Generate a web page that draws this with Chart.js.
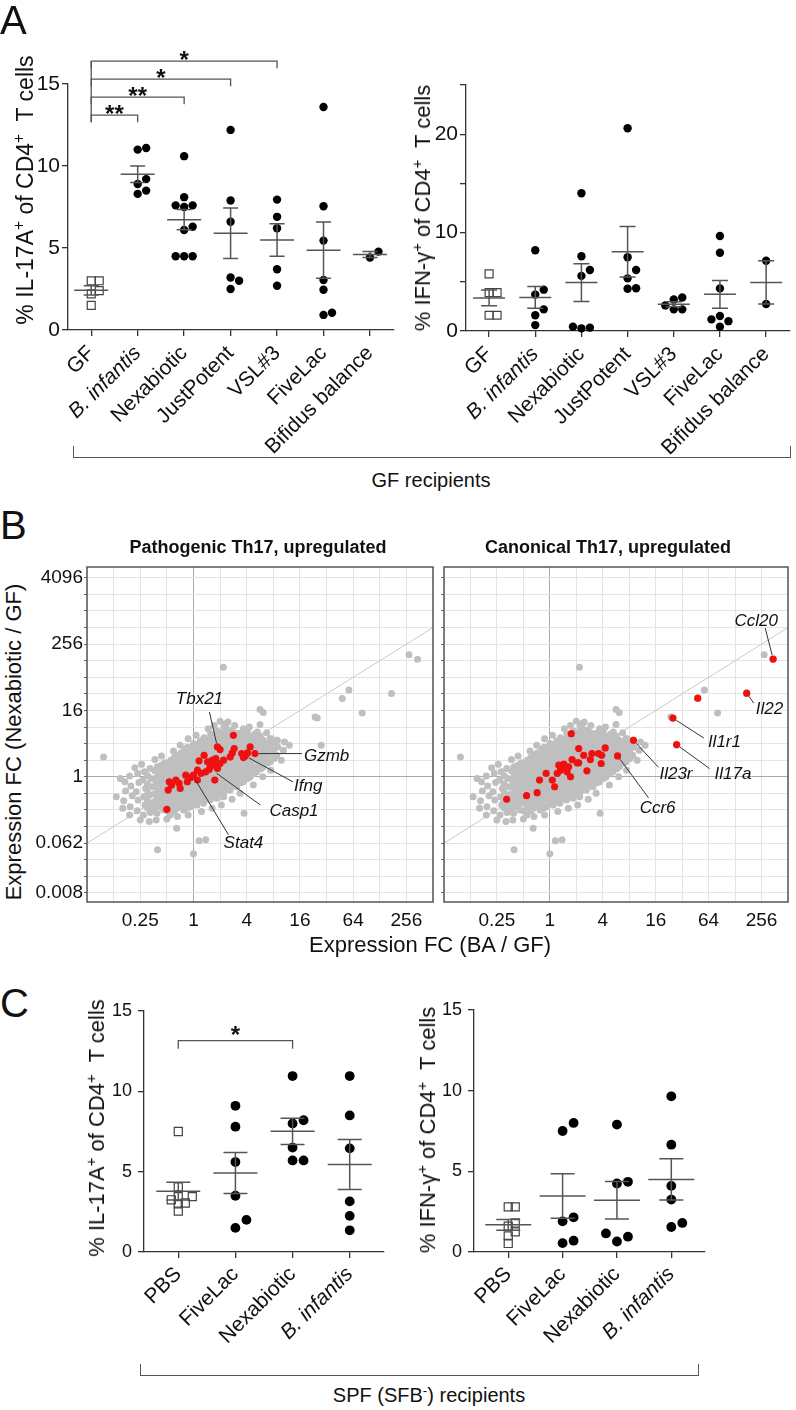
<!DOCTYPE html>
<html>
<head>
<meta charset="utf-8">
<title>Th17 induction by probiotics</title>
<script src="https://cdn.jsdelivr.net/npm/chart.js@4.4.1/dist/chart.umd.min.js"></script>
<style>
  body { margin: 0; background: #fff; }
  #fig { position: relative; width: 796px; height: 1410px; overflow: hidden;
         font-family: 'Liberation Sans', Arial, sans-serif; color: #111; }
  #fig canvas { position: absolute; }
  .t { position: absolute; white-space: nowrap; line-height: 1; }
  .c { transform: translate(-50%, -50%); }
  .r { transform: translate(-50%, -50%) rotate(-90deg); }
  .t sup { font-size: 0.68em; vertical-align: 0.55em; line-height: 0; }
  .letter { font-size: 40px; }
  .ytitle { font-size: 22px; }
  .brace { position: absolute; border: 1.3px solid #555; border-top: none; }
</style>
</head>
<body>
<div id="fig">
  <canvas id="a1" width="400" height="420" style="left:0;top:40px"></canvas>
  <canvas id="a2" width="396" height="420" style="left:400px;top:40px"></canvas>
  <canvas id="b1" width="410" height="380" style="left:30px;top:555px"></canvas>
  <canvas id="b2" width="356" height="380" style="left:440px;top:555px"></canvas>
  <canvas id="c1" width="340" height="380" style="left:60px;top:990px"></canvas>
  <canvas id="c2" width="330" height="380" style="left:400px;top:990px"></canvas>

  <div class="t letter" style="left:0;top:0">A</div>
  <div class="t letter" style="left:0;top:505px">B</div>
  <div class="t letter" style="left:0;top:983px">C</div>

  <div class="t ytitle r" style="left:25px;top:190px;font-size:23px">% IL-17A<sup>+</sup> of CD4<sup>+</sup>&nbsp; T cells</div>
  <div class="t ytitle r" style="left:423px;top:208px">% IFN-γ<sup>+</sup> of CD4<sup>+</sup>&nbsp; T cells</div>
  <div class="brace" style="left:73px;top:446px;width:716px;height:11px"></div>
  <div class="t c" style="left:431px;top:480px;font-size:20px">GF recipients</div>

  <div class="t c" style="left:258px;top:547px;font-size:18px;font-weight:bold">Pathogenic Th17, upregulated</div>
  <div class="t c" style="left:608px;top:547px;font-size:18px;font-weight:bold">Canonical Th17, upregulated</div>
  <div class="t ytitle r" style="left:14px;top:742px">Expression FC (Nexabiotic / GF)</div>
  <div class="t ytitle c" style="left:430px;top:945px">Expression FC (BA / GF)</div>

  <div class="t ytitle r" style="left:97px;top:1128px">% IL-17A<sup>+</sup> of CD4<sup>+</sup>&nbsp; T cells</div>
  <div class="t ytitle r" style="left:428px;top:1130px">% IFN-γ<sup>+</sup> of CD4<sup>+</sup>&nbsp; T cells</div>
  <div class="brace" style="left:140px;top:1364px;width:557px;height:11px"></div>
  <div class="t c" style="left:429px;top:1395px;font-size:20px">SPF (SFB<sup>-</sup>) recipients</div>
</div>
<script>
// ---- panel A: GF recipients ----
const groupsA = ['GF', 'B. infantis', 'Nexabiotic', 'JustPotent', 'VSL#3', 'FiveLac', 'Bifidus balance'];
const il17aGF = [
  [3.0, 3.0, 2.4, 2.2, 1.5],
  [11.0, 11.1, 9.2, 8.9, 8.5, 8.3],
  [10.6, 8.1, 7.6, 7.6, 7.5, 6.3, 6.1, 4.5, 4.5, 4.5],
  [12.2, 7.9, 6.6, 3.2, 3.0, 2.5],
  [7.95, 6.9, 6.2, 3.7, 2.7],
  [13.6, 7.55, 5.45, 3.05, 2.45, 1.05, 0.92],
  [4.78, 4.42]
];
const ifngGF = [
  [5.8, 3.9, 3.9, 1.6, 1.6],
  [8.2, 4.2, 3.7, 2.2, 1.6, 0.6],
  [14.0, 7.6, 6.2, 5.6, 0.44, 0.34, 0.27],
  [20.6, 7.5, 6.2, 5.35, 4.35, 4.3],
  [3.4, 3.2, 2.6, 2.2, 2.2],
  [9.65, 7.95, 4.33, 1.52, 1.18, 1.0, 0.44],
  [7.14, 2.74]
];
const il17aGFSig = [[0, 1, '**'], [0, 2, '**'], [0, 3, '*'], [0, 4, '*']];
const yTicksIl17a = [0, 5, 10, 15];
const yTicksIfngGF = [0, 5, 10, 15, 20, 25];
const yLabelsIfngGF = [0, 10, 20];

// ---- panel B: log2 fold changes [BA/GF, Nexabiotic/GF] ----
const geneFC = [
  [-2.62,-1.45],[-2.55,-0.85],[-2.58,-0.3],[-2.38,-1.8],[-2.3,-1.15],[-2.35,-0.55],[-2.4,0.05],
  [-2.12,-2.05],[-2.08,-1.4],[-2.15,-0.9],[-2.05,-0.35],[-2.1,0.2],
  [-1.88,-2.3],[-1.82,-1.7],[-1.86,-1.2],[-1.8,-0.7],[-1.9,-0.2],[-1.84,0.3],
  [-1.62,-2.15],[-1.58,-1.6],[-1.64,-1.1],[-1.56,-0.6],[-1.6,-0.1],[-1.63,0.5],
  [-1.37,-2.2],[-1.32,-1.7],[-1.36,-1.3],[-1.3,-0.85],[-1.38,-0.4],[-1.34,0.1],[-1.36,0.6],
  [-1.12,-2.0],[-1.08,-1.55],[-1.1,-1.15],[-1.06,-0.75],[-1.13,-0.35],[-1.09,0.05],[-1.11,0.45],[-1.07,0.85],
  [-0.87,-2.3],[-0.83,-1.8],[-0.86,-1.4],[-0.82,-1.0],[-0.88,-0.6],[-0.84,-0.2],[-0.86,0.2],[-0.83,0.6],[-0.85,1.0],
  [-0.62,-1.9],[-0.58,-1.5],[-0.61,-1.1],[-0.57,-0.7],[-0.63,-0.3],[-0.59,0.1],[-0.6,0.5],[-0.56,0.9],[-0.62,1.3],
  [-0.37,-2.0],[-0.33,-1.6],[-0.36,-1.2],[-0.32,-0.8],[-0.38,-0.4],[-0.34,0.0],[-0.35,0.4],[-0.31,0.8],[-0.37,1.2],[-0.33,1.6],
  [-0.12,-1.8],[-0.08,-1.4],[-0.11,-1.0],[-0.07,-0.6],[-0.13,-0.2],[-0.09,0.2],[-0.1,0.6],[-0.06,1.0],[-0.12,1.4],[-0.08,1.8],
  [0.13,-1.7],[0.17,-1.3],[0.14,-0.9],[0.18,-0.5],[0.12,-0.1],[0.16,0.3],[0.15,0.7],[0.19,1.1],[0.13,1.5],[0.17,1.9],
  [0.38,-1.6],[0.42,-1.2],[0.39,-0.8],[0.43,-0.4],[0.37,0.0],[0.41,0.4],[0.4,0.8],[0.44,1.2],[0.38,1.6],[0.42,2.0],[0.4,2.35],
  [0.63,-1.4],[0.67,-1.0],[0.64,-0.6],[0.68,-0.2],[0.62,0.2],[0.66,0.6],[0.65,1.0],[0.69,1.4],[0.63,1.8],[0.67,2.2],[0.64,2.6],
  [0.88,-1.3],[0.92,-0.9],[0.89,-0.5],[0.93,-0.1],[0.87,0.3],[0.91,0.7],[0.9,1.1],[0.94,1.5],[0.88,1.9],[0.92,2.3],[0.9,2.75],
  [1.13,-1.0],[1.17,-0.6],[1.14,-0.2],[1.18,0.2],[1.12,0.6],[1.16,1.0],[1.15,1.4],[1.19,1.8],[1.13,2.2],[1.17,2.6],[1.15,3.0],
  [1.38,-0.8],[1.42,-0.4],[1.39,0.0],[1.43,0.4],[1.37,0.8],[1.41,1.2],[1.4,1.6],[1.44,2.0],[1.38,2.4],[1.42,2.8],
  [1.63,-0.6],[1.67,-0.2],[1.64,0.2],[1.68,0.6],[1.62,1.0],[1.66,1.4],[1.65,1.8],[1.69,2.2],[1.63,2.6],
  [1.88,-0.3],[1.92,0.1],[1.89,0.5],[1.93,0.9],[1.87,1.3],[1.91,1.7],[1.9,2.1],[1.94,2.5],[1.88,2.9],
  [2.13,0.0],[2.17,0.4],[2.14,0.8],[2.18,1.2],[2.12,1.6],[2.16,2.0],[2.15,2.4],
  [2.38,0.3],[2.42,0.7],[2.39,1.1],[2.43,1.5],[2.37,1.9],[2.41,2.3],[2.4,2.7],
  [2.63,0.6],[2.67,1.0],[2.64,1.4],[2.68,1.8],[2.62,2.2],[2.88,0.9],[2.92,1.4],[2.89,1.9],[2.93,2.3],
  [3.13,1.3],[3.17,1.8],[3.14,2.2],[3.38,1.6],[3.42,2.1],
  [-1.72,-1.88],[-1.74,-1.43],[-1.71,-0.97],[-1.73,-0.44],[-1.72,0.06],
  [-1.47,-1.93],[-1.49,-1.52],[-1.46,-1.04],[-1.48,-0.61],[-1.47,-0.14],[-1.45,0.36],
  [-1.22,-1.82],[-1.24,-1.34],[-1.21,-0.96],[-1.23,-0.53],[-1.22,-0.16],[-1.24,0.31],[-1.21,0.69],
  [-0.97,-2.06],[-0.99,-1.59],[-0.96,-1.21],[-0.98,-0.79],[-0.97,-0.41],[-0.99,0.02],[-0.96,0.39],[-0.98,0.81],
  [-0.72,-2.08],[-0.74,-1.66],[-0.71,-1.24],[-0.73,-0.86],[-0.72,-0.44],[-0.74,-0.06],[-0.71,0.36],[-0.73,0.74],[-0.72,1.16],
  [-0.47,-1.76],[-0.49,-1.34],[-0.46,-0.96],[-0.48,-0.54],[-0.47,-0.16],[-0.49,0.26],[-0.46,0.64],[-0.48,1.06],[-0.47,1.44],
  [-0.22,-1.86],[-0.24,-1.44],[-0.21,-1.06],[-0.23,-0.64],[-0.22,-0.26],[-0.24,0.16],[-0.21,0.54],[-0.23,0.96],[-0.22,1.34],[-0.24,1.76],
  [0.03,-1.61],[0.01,-1.19],[0.04,-0.81],[0.02,-0.39],[0.03,0.01],[0.01,0.41],[0.04,0.79],[0.02,1.21],[0.03,1.59],[0.01,2.01],
  [0.28,-1.46],[0.26,-1.04],[0.29,-0.66],[0.27,-0.24],[0.28,0.14],[0.26,0.56],[0.29,0.94],[0.27,1.36],[0.28,1.74],[0.26,2.16],
  [0.53,-1.34],[0.51,-0.96],[0.54,-0.54],[0.52,-0.16],[0.53,0.26],[0.51,0.64],[0.54,1.06],[0.52,1.44],[0.53,1.86],[0.51,2.24],
  [0.78,-1.16],[0.76,-0.74],[0.79,-0.36],[0.77,0.06],[0.78,0.44],[0.76,0.86],[0.79,1.24],[0.77,1.66],[0.78,2.04],[0.76,2.46],
  [1.03,-0.94],[1.01,-0.56],[1.04,-0.14],[1.02,0.24],[1.03,0.66],[1.01,1.04],[1.04,1.46],[1.02,1.84],[1.03,2.26],[1.01,2.64],
  [1.28,-0.76],[1.26,-0.34],[1.29,0.04],[1.27,0.46],[1.28,0.84],[1.26,1.26],[1.29,1.64],[1.27,2.06],[1.28,2.44],[1.26,2.86],
  [1.53,-0.54],[1.51,-0.16],[1.54,0.26],[1.52,0.64],[1.53,1.06],[1.51,1.44],[1.54,1.86],[1.52,2.24],[1.53,2.66],
  [1.78,-0.36],[1.76,0.06],[1.79,0.44],[1.77,0.86],[1.78,1.24],[1.76,1.66],[1.79,2.04],[1.77,2.46],
  [2.03,-0.11],[2.01,0.31],[2.04,0.69],[2.02,1.11],[2.03,1.49],[2.01,1.91],[2.04,2.29],[2.02,2.71],
  [2.28,0.21],[2.26,0.59],[2.29,1.01],[2.27,1.39],[2.28,1.81],[2.26,2.19],[2.29,2.56],
  [2.53,0.49],[2.51,0.91],[2.54,1.29],[2.52,1.71],[2.53,2.09],[2.51,2.46],
  [2.78,0.81],[2.76,1.19],[2.79,1.61],[2.77,1.99],[3.03,1.11],[3.01,1.59],[3.04,2.06],
  [-2.9,-1.2],[-2.75,-0.1],[-2.2,0.55],[-1.95,0.75],[-1.45,1.05],[-1.2,1.25],[-0.75,1.55],[-0.5,1.9],
  [-0.2,2.3],[0.1,2.5],[0.55,2.9],[0.78,3.1],[1.0,3.35],[1.3,3.3],[1.55,3.1],[2.1,3.0],[2.5,3.15],
  [2.75,2.65],[3.6,1.9],[3.3,1.0],[2.9,0.4],[2.6,0.0],[2.25,-0.5],[1.75,-1.0],[1.45,-1.35],[1.05,-1.7],
  [0.7,-1.9],[0.3,-2.1],[-0.2,-2.3],[-0.6,-2.4],[-1.0,-2.55],[-1.4,-2.6],[-2.4,-2.3],[-2.0,-2.6],[-1.66,-2.7],
  [-3.38,1.2],[-2.66,-1.9],[-0.63,-3.1],[0.21,-3.86],[0.46,-3.8],[-1.35,-4.4],[0.0,-4.64],
  [1.12,6.6],[2.5,4.05],[2.62,3.88],[4.57,3.6],[4.65,3.54],[5.59,4.72],[5.84,5.24],[6.34,3.84],
  [7.44,5.02],[4.8,1.9],[8.1,7.36],[8.42,7.08],[3.15,2.2],[2.88,2.3],[1.78,2.64],[1.21,3.2],
  [1.9,-2.2],[2.09,0.0],[1.13,-1.2]
];
const pathogenicUp = [
  [1.5,2.5],[0.9,1.8],[1.0,1.64],[1.53,1.7],[2.13,1.8],[1.81,1.4],[1.94,1.26],[2.03,1.44],[1.88,1.16],
  [2.31,1.4],[1.46,1.44],[1.38,1.2],[1.13,1.0],[1.0,0.8],[0.4,1.3],[0.21,0.96],[0.53,0.9],[0.71,1.0],
  [0.84,1.1],[0.63,0.6],[0.78,0.7],[0.9,0.5],[0.46,0.3],[0.59,0.44],[0.28,0.2],[0.15,0.4],[0.8,-0.2],
  [0.0,0.1],[-0.1,-0.04],[-0.29,0.1],[0.15,-0.2],[-0.23,-0.3],[-0.54,-0.4],[-0.66,-0.2],[-0.5,-0.7],
  [-0.91,-0.3],[-0.82,-0.5],[-0.95,-0.8],[-1.0,-1.96]
];
const canonicalUp = [
  [8.44,7.1],[7.44,5.04],[5.59,4.74],[4.65,3.54],[4.79,1.94],[3.16,2.2],[2.56,1.26],[2.09,1.74],
  [1.96,1.3],[1.94,0.8],[1.84,1.4],[1.59,1.4],[1.53,1.04],[1.4,0.36],[1.28,1.3],[1.09,1.7],[1.09,0.84],
  [0.81,2.6],[0.84,1.04],[1.03,0.84],[0.71,0.6],[0.59,0.5],[0.34,0.7],[0.4,0.4],[0.28,0.2],[0.78,0.0],
  [0.09,-0.2],[-0.14,0.2],[-0.39,-0.2],[0.18,-0.6],[-0.48,-0.96],[-0.88,-1.14],[-1.63,-1.36],[0.53,0.76],[0.65,0.3]
];
const fcTickX = [-2, 0, 2, 4, 6, 8];
const fcTickXLabels = ['0.25', '1', '4', '16', '64', '256'];
const fcTickY = [12, 8, 4, 0, -4, -7];
const fcTickYLabels = ['4096', '256', '16', '1', '0.062', '0.008'];

// labelled genes: at = log2 position, line/text = pixel offsets from it
const pathogenicTags = [
  {gene: 'Tbx21', at: [0.9, 1.8], line: [-8, -35], text: [-18, -48], align: 'center'},
  {gene: 'Gzmb', at: [2.31, 1.4], line: [47, 0], text: [49, 3], align: 'left'},
  {gene: 'Ifng', at: [1.94, 1.26], line: [48, 26], text: [49, 30], align: 'left'},
  {gene: 'Casp1', at: [0.75, 0.35], line: [47, 34], text: [56, 40], align: 'left'},
  {gene: 'Stat4', at: [0, 0], line: [35, 58], text: [50, 66], align: 'center'}
];
const canonicalTags = [
  {gene: 'Ccl20', at: [8.44, 7.1], line: [-8, -31], text: [-17, -38], align: 'center'},
  {gene: 'Il22', at: [7.44, 5.04], line: [7, 10], text: [9, 16], align: 'left'},
  {gene: 'Il1r1', at: [4.65, 3.54], line: [31, 20], text: [35, 24], align: 'left'},
  {gene: 'Il17a', at: [4.79, 1.94], line: [33, 24], text: [38, 30], align: 'left'},
  {gene: 'Il23r', at: [3.16, 2.2], line: [25, 27], text: [26, 34], align: 'left'},
  {gene: 'Ccr6', at: [2.56, 1.26], line: [31, 42], text: [40, 52], align: 'center'}
];

// ---- panel C: SPF (SFB-) recipients ----
const groupsC = ['PBS', 'FiveLac', 'Nexabiotic', 'B. infantis'];
const il17aSPF = [
  [7.5, 4.05, 3.45, 3.45, 3.25, 3.05, 3.0, 2.55],
  [9.1, 7.8, 5.6, 3.5, 2.0, 1.5],
  [10.95, 8.2, 8.0, 6.5, 5.7, 5.7],
  [10.95, 8.5, 6.45, 3.15, 2.25, 1.35]
];
const ifngSPF = [
  [2.8, 2.8, 1.8, 1.6, 1.25, 1.0, 0.53],
  [8.0, 7.5, 2.15, 1.9, 0.7, 0.55],
  [7.9, 4.35, 4.25, 1.15, 0.95, 0.65],
  [9.65, 6.65, 4.1, 3.25, 1.8, 1.55]
];
const il17aSPFSig = [[0, 2, '*']];
const yTicksSPF = [0, 5, 10, 15];

const FONT = "'Liberation Sans', Arial, sans-serif";

Chart.defaults.font.family = FONT;
Chart.defaults.color = '#111';
Chart.defaults.animation = false;
Chart.defaults.plugins.legend.display = false;
Chart.defaults.plugins.tooltip.enabled = false;

// spread overlapping dots sideways, in pixels, after the scales placed them
const swarm = {
  id: 'swarm',
  afterDatasetsUpdate(chart) {
    chart.data.datasets.forEach((ds, i) => {
      if (!ds.swarmGap) return;
      const gap = ds.swarmGap;
      const pts = chart.getDatasetMeta(i).data.slice().sort((a, b) => b.y - a.y);
      const placed = [];
      pts.forEach(p => {
        const x0 = p.x;
        for (const k of [0, 1, -1, 2, -2, 3, -3]) {
          const nx = x0 + k * gap;
          if (placed.every(q => Math.hypot(q[0] - nx, q[1] - p.y) >= gap)) { p.x = nx; break; }
        }
        placed.push([p.x, p.y]);
      });
    });
  }
};

// mean +/- SEM per group
const meanSem = {
  id: 'meanSem',
  afterDatasetsDraw(chart, args, opts) {
    const {ctx, scales: {x, y}} = chart;
    ctx.save();
    ctx.strokeStyle = '#555';
    ctx.lineWidth = 1.5;
    chart.data.datasets.forEach(ds => {
      const v = ds.data.map(d => d.y);
      const n = v.length;
      const m = v.reduce((a, b) => a + b, 0) / n;
      const sd = Math.sqrt(v.reduce((a, b) => a + (b - m) * (b - m), 0) / (n - 1));
      const se = sd / Math.sqrt(n);
      const cx = x.getPixelForValue(ds.data[0].x);
      const ym = y.getPixelForValue(m), hi = y.getPixelForValue(m + se), lo = y.getPixelForValue(m - se);
      ctx.beginPath();
      ctx.moveTo(cx - opts.mean, ym); ctx.lineTo(cx + opts.mean, ym);
      ctx.moveTo(cx, hi); ctx.lineTo(cx, lo);
      ctx.moveTo(cx - opts.cap, hi); ctx.lineTo(cx + opts.cap, hi);
      ctx.moveTo(cx - opts.cap, lo); ctx.lineTo(cx + opts.cap, lo);
      ctx.stroke();
    });
    ctx.restore();
  }
};

// significance brackets above the groups
const sigBars = {
  id: 'sigBars',
  afterDraw(chart, args, opts) {
    if (!opts.pairs) return;
    const {ctx, scales: {x, y}} = chart;
    ctx.save();
    ctx.strokeStyle = '#555';
    ctx.lineWidth = 1.3;
    ctx.fillStyle = '#111';
    ctx.font = 'bold 24px ' + FONT;
    ctx.textAlign = 'center';
    let top = 0, bottom = 0;
    opts.pairs.forEach((p, i) => {
      const x0 = x.getPixelForValue(p[0]), x1 = x.getPixelForValue(p[1]);
      const yy = y.getPixelForValue(opts.base) - i * opts.step;
      if (i === 0) bottom = yy;
      top = yy;
      ctx.beginPath();
      ctx.moveTo(x0, yy + opts.tick); ctx.lineTo(x0, yy); ctx.lineTo(x1, yy); ctx.lineTo(x1, yy + opts.tick);
      ctx.stroke();
      ctx.fillText(p[2], (x0 + x1) / 2, yy + opts.starDy);
    });
    if (opts.pairs.length > 1) {
      const x0 = x.getPixelForValue(opts.pairs[0][0]);
      ctx.beginPath();
      ctx.moveTo(x0, top); ctx.lineTo(x0, bottom + opts.tick);
      ctx.stroke();
    }
    ctx.restore();
  }
};

function dotChart(id, groups, values, o) {
  const datasets = values.map((vals, i) => ({
    data: vals.map(v => ({x: i, y: v})),
    pointStyle: i === 0 ? 'rect' : 'circle',
    pointRadius: i === 0 ? o.sq : o.dot,
    backgroundColor: i === 0 ? 'rgba(0,0,0,0)' : '#000',
    borderColor: i === 0 ? '#444' : '#000',
    borderWidth: i === 0 ? 1.2 : 0,
    swarmGap: i === 0 ? o.sqGap : o.gap,
    clip: false
  }));
  const axisGrid = {display: true, drawOnChartArea: false, tickLength: 6, color: '#333', lineWidth: 1.3};
  const axisBorder = {display: true, color: '#333', width: 1.3};
  return new Chart(document.getElementById(id), {
    type: 'scatter',
    data: {datasets},
    options: {
      responsive: false,
      layout: {padding: {top: o.top, right: o.right, left: 0, bottom: 0}},
      scales: {
        x: {
          type: 'linear', min: o.xMin, max: o.xMax,
          afterBuildTicks: s => { s.ticks = groups.map((g, i) => ({value: i})); },
          afterFit: s => { s.height = o.xH; s.paddingLeft = 0; s.paddingRight = 0; },
          grid: axisGrid, border: axisBorder,
          ticks: {
            autoSkip: false, minRotation: 45, maxRotation: 45, padding: o.xPad, color: '#111',
            font: c => ({family: FONT, size: o.tick,
              style: c.tick && groups[c.tick.value] === 'B. infantis' ? 'italic' : 'normal'}),
            callback: v => groups[v]
          }
        },
        y: {
          min: 0, max: o.yMax,
          afterBuildTicks: s => { s.ticks = o.yTicks.map(v => ({value: v})); },
          afterFit: s => { s.width = o.yW; s.paddingTop = 0; s.paddingBottom = 0; },
          grid: axisGrid, border: axisBorder,
          ticks: {
            padding: o.yPad, color: '#111', font: {family: FONT, size: o.ytick},
            callback: v => (o.yLabels.includes(v) ? String(v) : '')
          }
        }
      },
      plugins: {
        meanSem: {mean: o.mean, cap: o.cap},
        sigBars: o.sig ? {pairs: o.sig, base: o.sigBase, step: o.sigStep, tick: o.sigTick, starDy: o.starDy} : {}
      }
    },
    plugins: [swarm, meanSem, sigBars]
  });
}

// frame + gene labels for the fold-change scatter plots
const frame = {
  id: 'frame',
  afterDraw(chart) {
    const {ctx, chartArea: a} = chart;
    ctx.save();
    ctx.strokeStyle = '#555';
    ctx.lineWidth = 1.5;
    ctx.strokeRect(a.left, a.top, a.width, a.height);
    ctx.restore();
  }
};
const geneTags = {
  id: 'geneTags',
  afterDatasetsDraw(chart, args, opts) {
    const {ctx, scales: {x, y}} = chart;
    ctx.save();
    ctx.strokeStyle = '#333';
    ctx.lineWidth = 1;
    ctx.fillStyle = '#111';
    ctx.font = 'italic 17px ' + FONT;
    ctx.textBaseline = 'middle';
    (opts.tags || []).forEach(t => {
      const ax = x.getPixelForValue(t.at[0]), ay = y.getPixelForValue(t.at[1]);
      const r = 4 / Math.hypot(t.line[0], t.line[1]);
      ctx.beginPath();
      ctx.moveTo(ax + t.line[0] * r, ay + t.line[1] * r);
      ctx.lineTo(ax + t.line[0], ay + t.line[1]);
      ctx.stroke();
      ctx.textAlign = t.align;
      ctx.fillText(t.gene, ax + t.text[0], ay + t.text[1]);
    });
    ctx.restore();
  }
};

function fcChart(id, red, tags, o) {
  const steps = (a, b) => { const t = []; for (let v = a; v <= b; v++) t.push({value: v}); return t; };
  const gridColor = c => (c.tick && c.tick.value === 0 ? '#a9a9a9' : '#e4e4e4');
  // first dataset is painted last (on top)
  return new Chart(document.getElementById(id), {
    type: 'scatter',
    data: {datasets: [
      {data: red.map(p => ({x: p[0], y: p[1]})), pointRadius: 3.6, backgroundColor: '#f01010', borderWidth: 0},
      {data: geneFC.map(p => ({x: p[0], y: p[1]})), pointRadius: 3.5, backgroundColor: '#bfbfbf', borderWidth: 0},
      {data: [{x: -4, y: -4}, {x: 9, y: 9}], showLine: true, borderColor: '#c9c9c9', borderWidth: 1, pointRadius: 0}
    ]},
    options: {
      responsive: false,
      layout: {padding: {top: 12, right: o.right, left: 0, bottom: 0}},
      scales: {
        x: {
          type: 'linear', min: -4, max: 9,
          afterBuildTicks: s => { s.ticks = steps(-4, 9); },
          afterFit: s => { s.height = 33; s.paddingLeft = 0; s.paddingRight = 0; },
          grid: {color: gridColor, lineWidth: 1, drawTicks: false},
          border: {display: false},
          ticks: {
            autoSkip: false, maxRotation: 0, padding: 7, color: '#111', font: {size: 19},
            callback: v => { const k = fcTickX.indexOf(v); return k < 0 ? '' : fcTickXLabels[k]; }
          }
        },
        y: {
          type: 'linear', min: -7.55, max: 12.65,
          afterBuildTicks: s => { s.ticks = steps(-7, 12); },
          afterFit: s => { s.width = o.yW; s.paddingTop = 0; s.paddingBottom = 0; },
          grid: {color: gridColor, lineWidth: 1, drawTicks: true, tickLength: 3, tickColor: '#666'},
          border: {display: false},
          ticks: {
            autoSkip: false, padding: 1, color: '#111', font: {size: 19},
            callback: v => { const k = fcTickY.indexOf(v); return (k < 0 || !o.labels) ? '' : fcTickYLabels[k]; }
          }
        }
      },
      plugins: {geneTags: {tags}}
    },
    plugins: [frame, geneTags]
  });
}

dotChart('a1', groupsA, il17aGF, {
  tick: 21, ytick: 21, yMax: 15, yTicks: yTicksIl17a, yLabels: yTicksIl17a, yPad: 2, xPad: 5,
  xMin: -0.5, xMax: 6.5, top: 44, right: 6, yW: 68, xH: 130,
  dot: 4.2, sq: 5.6, gap: 8.5, sqGap: 8, mean: 17, cap: 7.5,
  sig: il17aGFSig, sigBase: 13.1, sigStep: 18, sigTick: 7, starDy: 7
});
dotChart('a2', groupsA, ifngGF, {
  tick: 21, ytick: 21, yMax: 25, yTicks: yTicksIfngGF, yLabels: yLabelsIfngGF, yPad: 2, xPad: 5,
  xMin: -0.5, xMax: 6.5, top: 45, right: 4, yW: 66, xH: 129,
  dot: 4.2, sq: 5.6, gap: 8.5, sqGap: 8, mean: 16, cap: 8
});
fcChart('b1', pathogenicUp, pathogenicTags, {right: 7, yW: 57, labels: true});
fcChart('b2', canonicalUp, canonicalTags, {right: 8, yW: 3, labels: false});
dotChart('c1', groupsC, il17aSPF, {
  tick: 21, ytick: 18, yMax: 15, yTicks: yTicksSPF, yLabels: yTicksSPF, yPad: 6, xPad: 4,
  xMin: -0.6, xMax: 3.6, top: 21, right: 16, yW: 84, xH: 118,
  dot: 4.9, sq: 5.7, gap: 11, sqGap: 7, mean: 22, cap: 12,
  sig: il17aSPFSig, sigBase: 13.15, sigStep: 0, sigTick: 8, starDy: 2
});
dotChart('c2', groupsC, ifngSPF, {
  tick: 21, ytick: 18, yMax: 15, yTicks: yTicksSPF, yLabels: yTicksSPF, yPad: 6, xPad: 4,
  xMin: -0.63, xMax: 3.62, top: 20, right: 25, yW: 74, xH: 118,
  dot: 4.9, sq: 5.7, gap: 11, sqGap: 7, mean: 23, cap: 12
});
</script>
</body>
</html>
